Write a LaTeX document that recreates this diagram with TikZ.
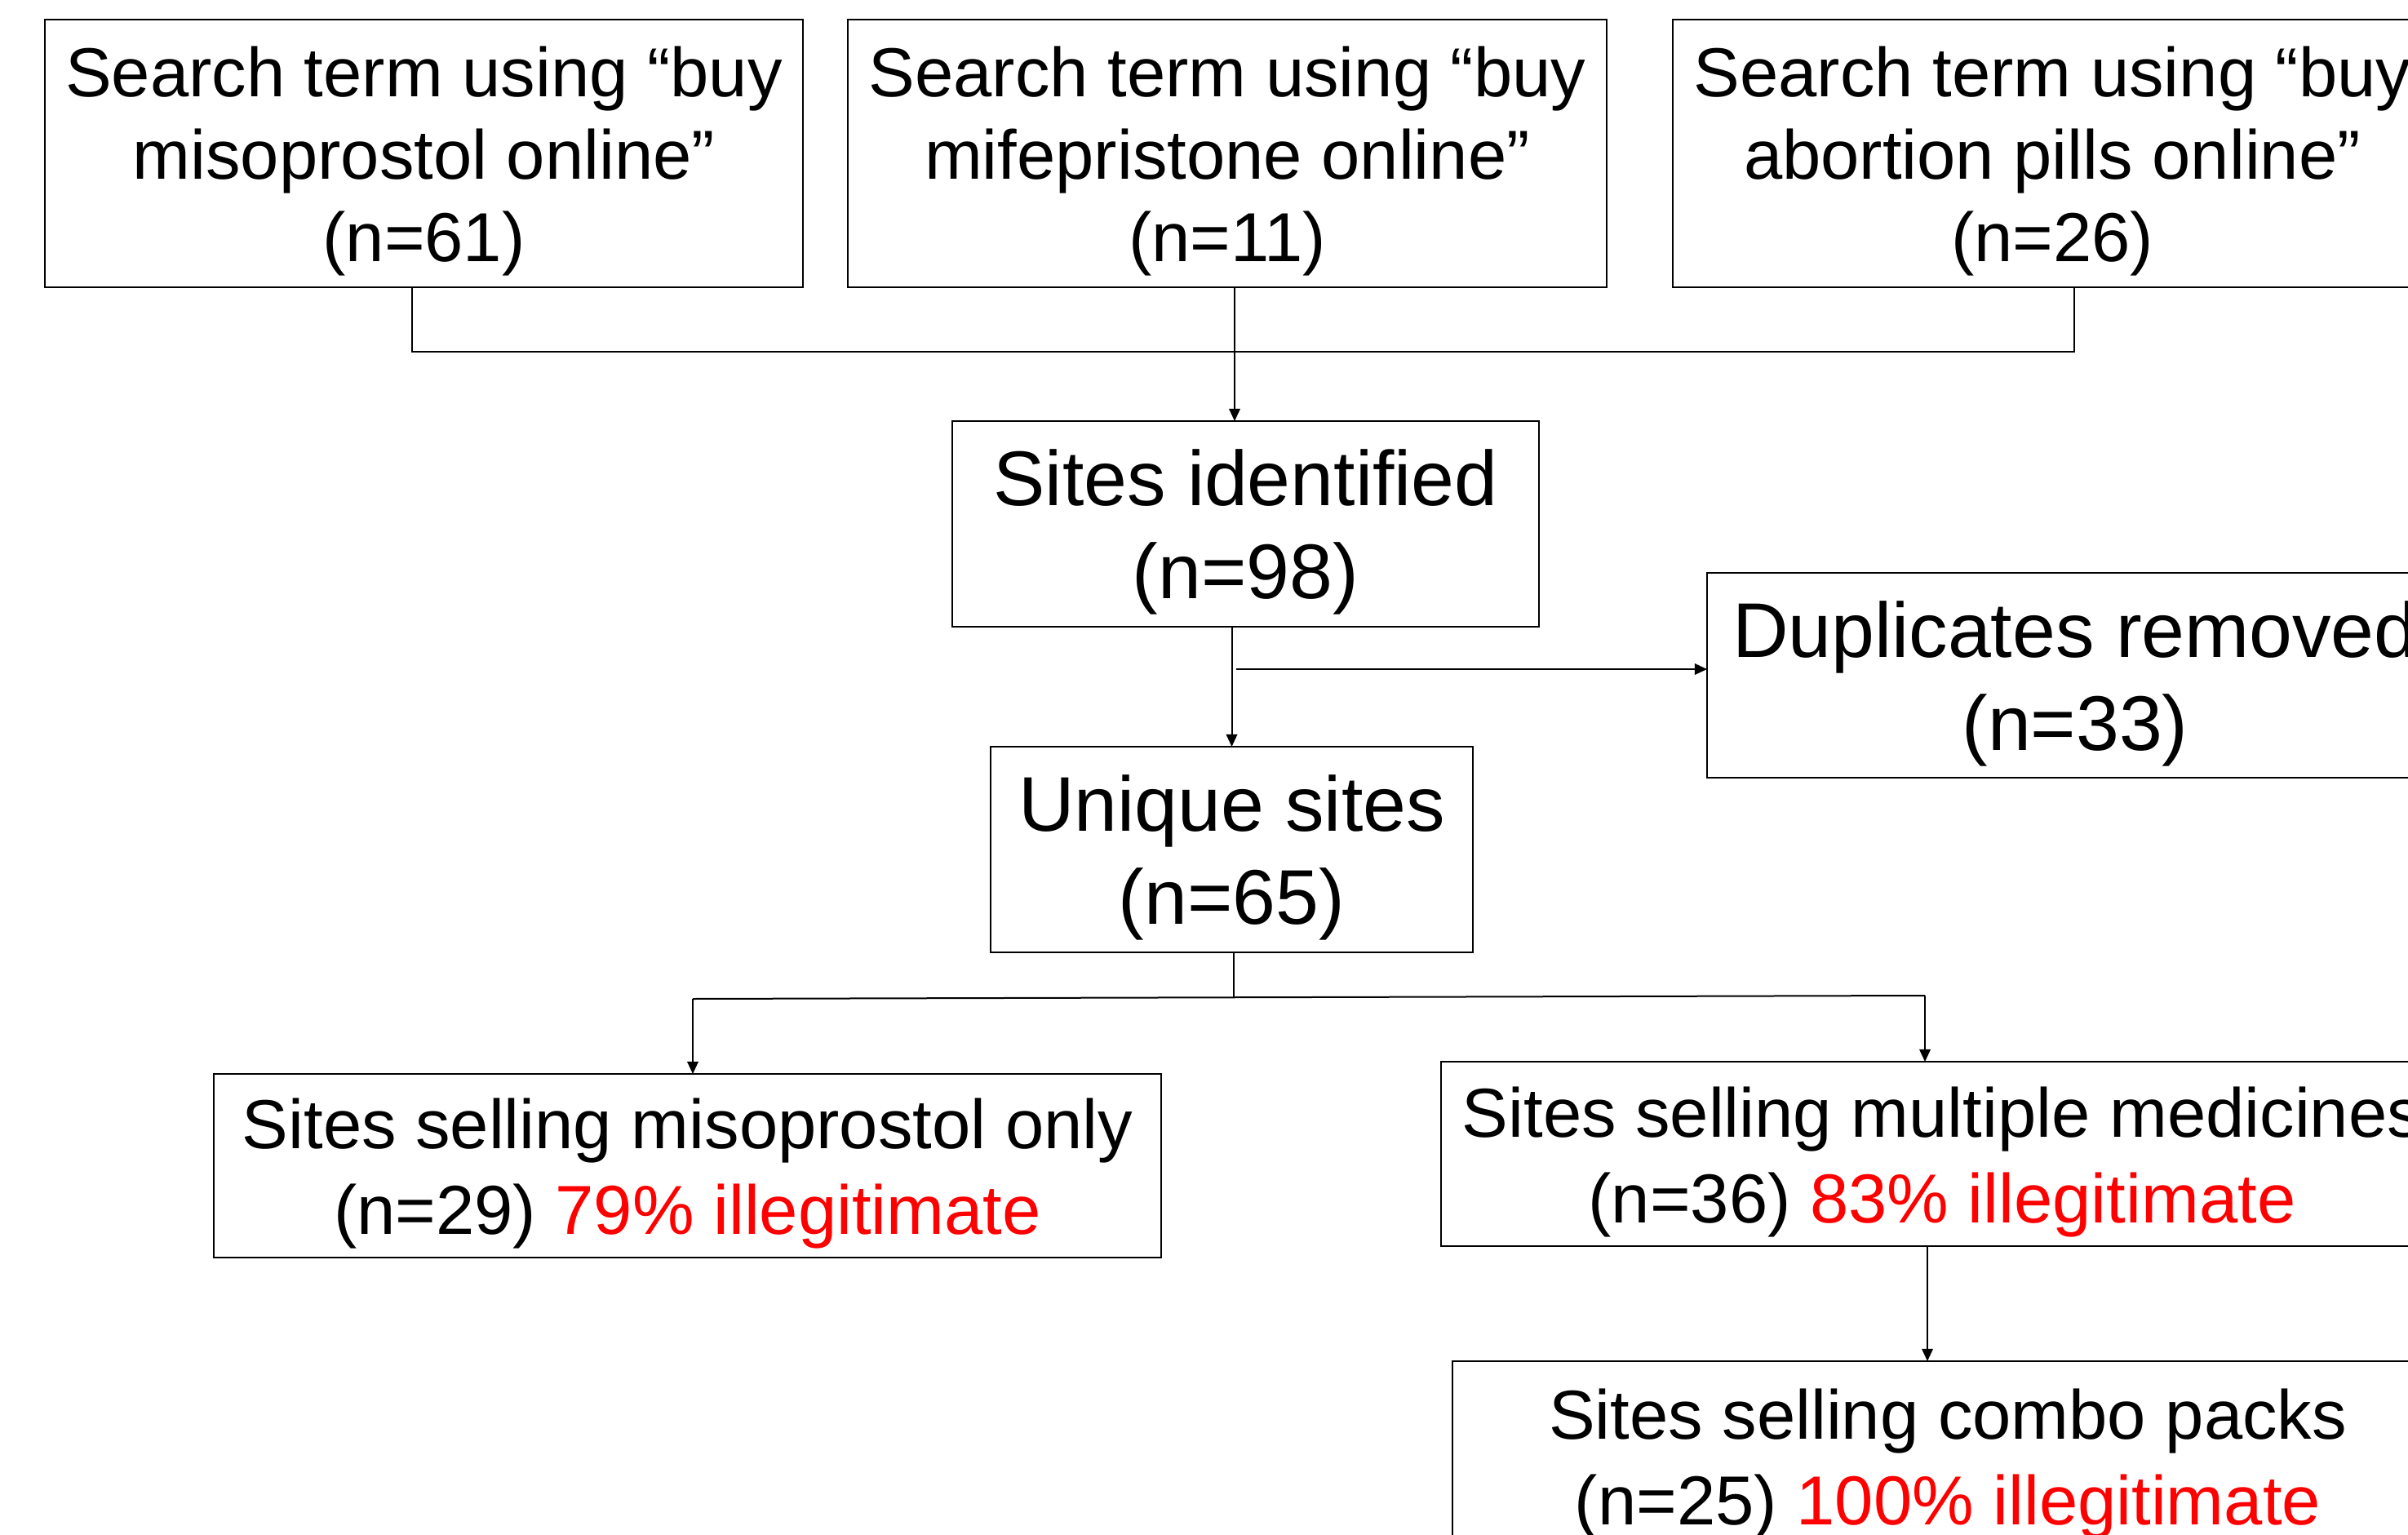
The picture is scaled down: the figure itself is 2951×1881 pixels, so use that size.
\documentclass[tikz,border=0pt]{standalone}
\usepackage{fontspec}
\setmainfont{Liberation Sans}
\usetikzlibrary{arrows.meta}
\definecolor{illred}{RGB}{255,0,0}
\begin{document}
\begin{tikzpicture}[x=0.25pt,y=-0.25pt,
  box/.style={draw, line width=0.6pt, inner sep=0pt, outer sep=0pt},
  txt/.style={align=center, inner sep=0pt, yshift=-2.5pt},
  bigtxt/.style={txt, font=\fontsize{23.75pt}{28.5pt}\selectfont},
  midtxt/.style={txt, font=\fontsize{21.25pt}{25.25pt}\selectfont},
  lowtxt/.style={txt, font=\fontsize{21.25pt}{26.25pt}\selectfont},
  conn/.style={line width=0.5pt},
  arr/.style={line width=0.5pt, -{Triangle[length=3.8pt,width=3.4pt]}}]
\useasboundingbox (0,0) rectangle (2951,1881);
\clip (0,0) rectangle (2951,1881);

\node[box, minimum width=232.25pt, minimum height=82pt] (s1) at (519.5,188) {};
\node[midtxt] (s1t) at (s1.center) {Search term using “buy\\misoprostol online”\\(n=61)};
\node[box, minimum width=232.5pt, minimum height=82pt] (s2) at (1504,188) {};
\node[midtxt] (s2t) at (s2.center) {Search term using “buy\\mifepristone online”\\(n=11)};
\node[box, minimum width=232.5pt, minimum height=82pt] (s3) at (2515,188) {};
\node[midtxt] (s3t) at (s3.center) {Search term using “buy\\abortion pills online”\\(n=26)};

\node[box, minimum width=179.75pt, minimum height=63pt] (ident) at (1526.5,642) {};
\node[bigtxt] (identt) at (ident.center) {Sites identified\\(n=98)};
\node[box, minimum width=225.5pt, minimum height=62.75pt] (dup) at (2543,827.5) {};
\node[bigtxt] (dupt) at (dup.center) {Duplicates removed\\(n=33)};
\node[box, minimum width=147.75pt, minimum height=63pt] (uniq) at (1509.5,1041) {};
\node[bigtxt] (uniqt) at (uniq.center) {Unique sites\\(n=65)};

\node[box, minimum width=290.25pt, minimum height=56.25pt] (miso) at (842.5,1428.5) {};
\node[lowtxt] (misot) at (miso.center) {Sites selling misoprostol only\\(n=29) \textcolor{illred}{79\% illegitimate}};
\node[box, minimum width=307pt, minimum height=56.5pt] (multi) at (2380,1414) {};
\node[lowtxt] (multit) at (multi.center) {Sites selling multiple medicines\\(n=36) \textcolor{illred}{83\% illegitimate}};
\node[box, minimum width=303.5pt, minimum height=58pt] (combo) at (2387,1784) {};
\node[lowtxt] (combot) at (combo.center) {Sites selling combo packs\\(n=25) \textcolor{illred}{100\% illegitimate}};

% top merge
\coordinate (j1) at (505,431);
\coordinate (j2) at (1513,431);
\coordinate (j3) at (2542,431);
\draw[conn] (s1.south -| j1) -- (j1) -- (j3) -- (s3.south -| j3);
\draw[arr] (s2.south -| j2) -- (ident.north -| j2);

% identified -> unique, duplicates
\draw[arr] (ident.south -| uniq.north) -- (uniq.north);
\coordinate (jd) at (1515,820);
\draw[arr] (jd) -- (dup.west |- jd);

% split
\coordinate (ju) at (1512,1222);
\coordinate (jl) at (849,1224);
\coordinate (jr) at (2359,1220);
\draw[conn] (uniq.south -| ju) -- (ju);
\draw[conn] (jl) -- (jr);
\draw[arr] (jl) -- (miso.north -| jl);
\draw[arr] (jr) -- (multi.north -| jr);

% multi -> combo
\coordinate (jm) at (2362,1600);
\draw[arr] (multi.south -| jm) -- (combo.north -| jm);
\end{tikzpicture}
\end{document}
